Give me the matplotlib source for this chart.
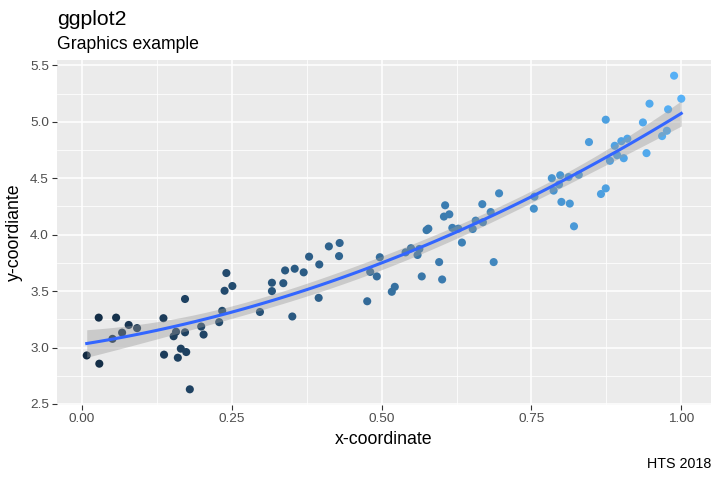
import numpy as np
import matplotlib
matplotlib.use("Agg")
import matplotlib.pyplot as plt
from matplotlib.colors import to_rgb

plt.rcParams['font.family'] = ['Liberation Sans', 'DejaVu Sans']

x_vals = [0.008, 0.028, 0.029, 0.051, 0.057, 0.067, 0.078, 0.092, 0.136, 0.137,
          0.153, 0.157, 0.160, 0.165, 0.172, 0.172, 0.174, 0.180, 0.199, 0.203,
          0.229, 0.234, 0.238, 0.241, 0.251, 0.297, 0.317, 0.317, 0.336, 0.339,
          0.351, 0.355, 0.370, 0.379, 0.395, 0.396, 0.412, 0.429, 0.430, 0.476,
          0.481, 0.492, 0.497, 0.517, 0.522, 0.540, 0.549, 0.560, 0.563, 0.567,
          0.575, 0.578, 0.596, 0.601, 0.604, 0.606, 0.613, 0.618, 0.628, 0.634,
          0.652, 0.657, 0.668, 0.669, 0.682, 0.687, 0.696, 0.754, 0.755, 0.784,
          0.787, 0.796, 0.798, 0.800, 0.812, 0.814, 0.821, 0.829, 0.846, 0.866,
          0.874, 0.874, 0.881, 0.889, 0.893, 0.900, 0.904, 0.910, 0.936, 0.942,
          0.947, 0.968, 0.976, 0.978, 0.988, 1.000]
y_vals = [2.930, 3.265, 2.857, 3.077, 3.265, 3.132, 3.200, 3.172, 3.260, 2.937,
          3.100, 3.140, 2.910, 2.990, 3.430, 3.135, 2.960, 2.630, 3.186, 3.115,
          3.225, 3.325, 3.503, 3.660, 3.545, 3.315, 3.574, 3.500, 3.570, 3.683,
          3.275, 3.698, 3.666, 3.805, 3.440, 3.736, 3.896, 3.810, 3.926, 3.410,
          3.670, 3.630, 3.800, 3.494, 3.538, 3.843, 3.880, 3.820, 3.873, 3.630,
          4.040, 4.053, 3.757, 3.603, 4.160, 4.260, 4.180, 4.060, 4.053, 3.930,
          4.050, 4.124, 4.270, 4.110, 4.200, 3.757, 4.366, 4.230, 4.337, 4.500,
          4.390, 4.444, 4.526, 4.290, 4.510, 4.275, 4.074, 4.530, 4.820, 4.360,
          4.410, 5.018, 4.654, 4.787, 4.704, 4.828, 4.677, 4.850, 4.994, 4.722,
          5.160, 4.873, 4.920, 5.110, 5.408, 5.204]

title = "ggplot2"
subtitle = "Graphics example"
caption = "HTS 2018"
x_label = "x-coordinate"
y_label = "y-coordiante"
x_ticks = [0.0, 0.25, 0.5, 0.75, 1.0]
x_ticklabels = ["0.00", "0.25", "0.50", "0.75", "1.00"]
y_ticks = [2.5, 3.0, 3.5, 4.0, 4.5, 5.0, 5.5]
y_ticklabels = ["2.5", "3.0", "3.5", "4.0", "4.5", "5.0", "5.5"]

x = np.array(x_vals)
y = np.array(y_vals)
n = len(x)

# quadratic least-squares smooth with 95% confidence band
X = np.column_stack([np.ones(n), x, x ** 2])
beta, *_ = np.linalg.lstsq(X, y, rcond=None)
resid = y - X @ beta
dfree = n - 3
s2 = np.sum(resid ** 2) / dfree
XtX_inv = np.linalg.inv(X.T @ X)
z = 1.959964
tq = z + (z ** 3 + z) / (4 * dfree) + (5 * z ** 5 + 16 * z ** 3 + 3 * z) / (96 * dfree ** 2)

xg = np.linspace(x.min(), x.max(), 80)
Xg = np.column_stack([np.ones_like(xg), xg, xg ** 2])
fit = Xg @ beta
se = np.sqrt(s2 * np.einsum("ij,jk,ik->i", Xg, XtX_inv, Xg))

# colours: gradient #132B43 -> #56B1F7 mapped to x
c0 = np.array(to_rgb("#132B43"))
c1 = np.array(to_rgb("#56B1F7"))
t = (x - x.min()) / (x.max() - x.min())
cols = c0[None, :] * (1 - t[:, None]) + c1[None, :] * t[:, None]

fig = plt.figure(figsize=(7.2, 4.8), dpi=100)
ax = fig.add_axes([57 / 720, 1 - 405 / 480, (711 - 57) / 720, (405 - 60) / 480])
ax.set_facecolor("#EBEBEB")
for sp in ax.spines.values():
    sp.set_visible(False)

xr = x.max() - x.min()
yr = y.max() - y.min()
ax.set_xlim(x.min() - 0.05 * xr, x.max() + 0.05 * xr)
ax.set_ylim(y.min() - 0.05 * yr, y.max() + 0.05 * yr)

ax.set_xticks(x_ticks)
ax.set_xticklabels(x_ticklabels)
ax.set_yticks(y_ticks)
ax.set_yticklabels(y_ticklabels)
ax.set_xticks([0.125, 0.375, 0.625, 0.875], minor=True)
ax.set_yticks([2.75, 3.25, 3.75, 4.25, 4.75, 5.25], minor=True)
ax.grid(which="major", color="white", linewidth=1.1)
ax.grid(which="minor", color="white", linewidth=0.55)
ax.set_axisbelow(True)
ax.tick_params(which="major", length=3.3, width=0.8, color="#333333",
               labelcolor="#4D4D4D", labelsize=9.7, pad=2.5)
ax.tick_params(which="minor", length=0)

ax.scatter(x, y, s=34, c=cols, linewidths=0, zorder=2)
ax.fill_between(xg, fit - tq * se, fit + tq * se, color="#999999", alpha=0.4,
                linewidth=0, zorder=3)
ax.plot(xg, fit, color="#3366FF", linewidth=2.2, zorder=4)

ax.set_xlabel(x_label, fontsize=12.8, color="black", labelpad=4)
ax.set_ylabel(y_label, fontsize=12.8, color="black", labelpad=5)

fig.text(57 / 720, 1 - 25 / 480, title, fontsize=15.3, ha="left", va="baseline")
fig.text(57 / 720, 1 - 49 / 480, subtitle, fontsize=12.7, ha="left", va="baseline")
fig.text(711 / 720, 1 - 468 / 480, caption, fontsize=10.3, ha="right", va="baseline")

fig.savefig("out.png", dpi=100)
